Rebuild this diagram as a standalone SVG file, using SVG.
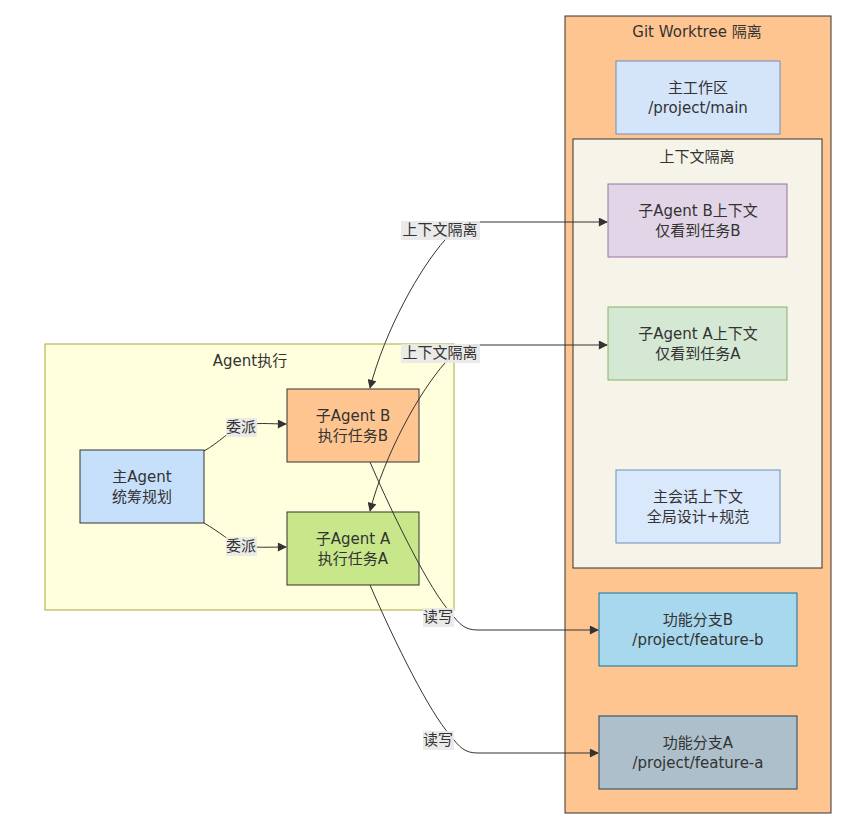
<svg xmlns="http://www.w3.org/2000/svg" width="864" height="835" viewBox="0 0 864 835">
<defs>
<marker id="arr" viewBox="0 0 10 10" refX="9" refY="5" markerWidth="10" markerHeight="9" markerUnits="userSpaceOnUse" orient="auto-start-reverse">
<path d="M0,0 L10,5 L0,10 z" fill="#333"/>
</marker>
<style>
text{font-family:"DejaVu Sans","Noto Sans CJK SC",sans-serif;font-size:15px;fill:#333;text-anchor:middle;dominant-baseline:central}
.e{fill:none;stroke:#333;stroke-width:1}
.lb{fill:#e8e8e8;fill-opacity:0.9}
</style>
</defs>
<rect width="864" height="835" fill="#fff"/>
<g id="git">
<rect x="565" y="16" width="266" height="797" fill="#ffc591" stroke="#333"/>
<text x="697" y="32">Git Worktree 隔离</text>
</g>
<g id="main-ws">
<rect x="616" y="61" width="164" height="73" fill="#d4e4f9" stroke="#6c8ebf"/>
<text x="698" y="88">主工作区</text>
<text x="698" y="108">/project/main</text>
</g>
<g id="ctx">
<rect x="573" y="139" width="249" height="429" fill="#f6f4e9" stroke="#333"/>
<text x="697" y="157">上下文隔离</text>
</g>
<g id="ctxB">
<rect x="608" y="184" width="179" height="73" fill="#e1d5e7" stroke="#9673a6"/>
<text x="698" y="211">子Agent B上下文</text>
<text x="698" y="231">仅看到任务B</text>
</g>
<g id="ctxA">
<rect x="608" y="307" width="179" height="73" fill="#d5e8d4" stroke="#82b366"/>
<text x="698" y="334">子Agent A上下文</text>
<text x="698" y="354">仅看到任务A</text>
</g>
<g id="ctxMain">
<rect x="616" y="470" width="164" height="73" fill="#dae8fc" stroke="#6c8ebf"/>
<text x="698" y="497">主会话上下文</text>
<text x="698" y="517">全局设计+规范</text>
</g>
<g id="featB">
<rect x="599" y="593" width="198" height="73" fill="#a8d8ee" stroke="#10739e"/>
<text x="698" y="620">功能分支B</text>
<text x="698" y="640">/project/feature-b</text>
</g>
<g id="featA">
<rect x="599" y="716" width="198" height="73" fill="#adbfca" stroke="#23445d"/>
<text x="698" y="743">功能分支A</text>
<text x="698" y="763">/project/feature-a</text>
</g>
<g id="exec">
<rect x="45" y="344" width="409" height="266" fill="#ffffdd" stroke="#aaaa33"/>
<text x="250" y="361">Agent执行</text>
</g>
<g id="mainAgent">
<rect x="80" y="450" width="124" height="73" fill="#c6e0fb" stroke="#333"/>
<text x="142" y="477">主Agent</text>
<text x="142" y="497">统筹规划</text>
</g>
<g id="subB">
<rect x="287" y="389" width="132" height="73" fill="#ffc591" stroke="#333"/>
<text x="353" y="416">子Agent B</text>
<text x="353" y="436">执行任务B</text>
</g>
<g id="subA">
<rect x="287" y="512" width="132" height="73" fill="#c8e68a" stroke="#333"/>
<text x="353" y="539">子Agent A</text>
<text x="353" y="559">执行任务A</text>
</g>
<g id="edges">
<path class="e" d="M204,451 C220,442 230,430 241,426 C255,422 270,424 286,424" marker-end="url(#arr)"/>
<path class="e" d="M204,523 C220,532 230,542 241,546 C255,548 270,547 286,547" marker-end="url(#arr)"/>
<path class="e" d="M370,388 C385,330 420,268 445,240 C455,228 462,222 480,222 L607,222" marker-start="url(#arr)" marker-end="url(#arr)"/>
<path class="e" d="M370,511 C385,453 420,391 445,363 C455,351 462,345 480,345 L607,345" marker-start="url(#arr)" marker-end="url(#arr)"/>
<path class="e" d="M370,462 C395,520 430,590 450,612 C460,625 465,630 478,630 L598,630" marker-end="url(#arr)"/>
<path class="e" d="M370,585 C395,643 430,713 450,735 C460,748 465,753 478,753 L598,753" marker-end="url(#arr)"/>
<rect class="lb" x="226" y="418" width="31" height="19"/>
<text x="241" y="427">委派</text>
<rect class="lb" x="226" y="537" width="31" height="19"/>
<text x="241" y="546">委派</text>
<rect class="lb" x="401" y="221" width="79" height="19"/>
<text x="440" y="230">上下文隔离</text>
<rect class="lb" x="401" y="344" width="79" height="19"/>
<text x="440" y="353">上下文隔离</text>
<rect class="lb" x="423" y="608" width="31" height="19"/>
<text x="438" y="617">读写</text>
<rect class="lb" x="423" y="731" width="31" height="19"/>
<text x="438" y="740">读写</text>
</g>
</svg>
